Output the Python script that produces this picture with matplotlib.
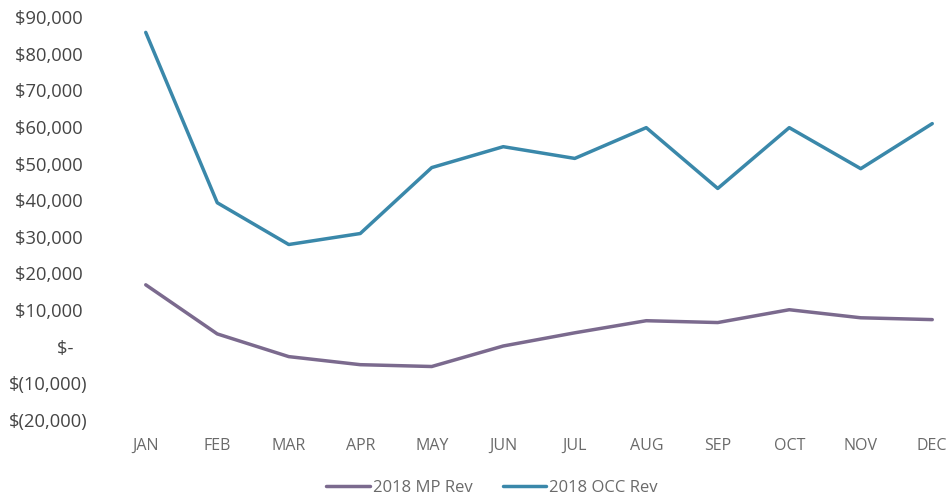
import matplotlib
matplotlib.use("Agg")
import matplotlib.pyplot as plt
from matplotlib.ticker import FuncFormatter

plt.rcParams['font.family'] = ['Open Sans', 'DejaVu Sans']

months = ["JAN", "FEB", "MAR", "APR", "MAY", "JUN", "JUL", "AUG", "SEP", "OCT", "NOV", "DEC"]
mp_rev = [16900, 3500, -2700, -4900, -5400, 200, 3800, 7100, 6600, 10100, 7900, 7400]
occ_rev = [85800, 39300, 27900, 30900, 48900, 54600, 51400, 59800, 43200, 59800, 48600, 60900]
y_ticks = list(range(-20000, 90001, 10000))

mp_color = "#7b6a8e"
occ_color = "#3a88aa"

W, H = 948, 499
fig = plt.figure(figsize=(W / 100, H / 100), dpi=100)
# plot area: x from 110px to 968px (runs slightly past the right edge), y from 17px to 420px
ax = fig.add_axes([110 / W, 1 - 420 / H, (968 - 110) / W, (420 - 17) / H])

x = list(range(len(months)))
ax.plot(x, mp_rev, color=mp_color, lw=2.5, label="2018 MP Rev", solid_capstyle="round")
ax.plot(x, occ_rev, color=occ_color, lw=2.5, label="2018 OCC Rev", solid_capstyle="round")

ax.set_xlim(-0.5, len(months) - 0.5)
ax.set_ylim(-20000, 90000)
ax.set_yticks(y_ticks)
ax.set_xticks(x)
ax.set_xticklabels(months)


def money(v, pos):
    # accounting style: negatives in parentheses, zero as a dash
    if v == 0:
        return "$-   "
    if v < 0:
        return "$({:,.0f})".format(-v)
    return "${:,.0f} ".format(v)


ax.yaxis.set_major_formatter(FuncFormatter(money))
ax.tick_params(axis="y", length=0, pad=16, labelsize=13.2, labelcolor="#454545")
ax.tick_params(axis="x", length=0, pad=13, labelsize=11.5, labelcolor="#6a6a6a")
for s in ax.spines.values():
    s.set_visible(False)

leg = fig.legend(loc="center", bbox_to_anchor=(492 / W, 1 - 488 / H), ncol=2, frameon=False,
                 fontsize=12, handlelength=2.6, handletextpad=0.2, columnspacing=1.8)
for t in leg.get_texts():
    t.set_color("#6a6a6a")

fig.savefig("out.png", dpi=100, facecolor="white")
